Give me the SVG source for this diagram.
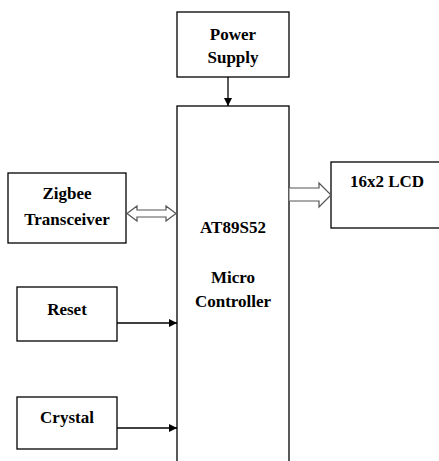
<svg xmlns="http://www.w3.org/2000/svg" width="439" height="461" viewBox="0 0 439 461">
<style>
.box{fill:#fff;stroke:#000;stroke-width:1.3}
.t{font-family:"Liberation Serif","Times New Roman",serif;font-weight:bold;font-size:17px;fill:#000;text-anchor:middle}
.ln{stroke:#000;stroke-width:1.3;fill:none}
.hollow{fill:#fff;stroke:#555;stroke-width:1.2}
</style>
<defs>
<marker id="ah" viewBox="0 0 10 10" refX="10" refY="5" markerWidth="8" markerHeight="8" markerUnits="userSpaceOnUse" orient="auto">
<path d="M0,0 L10,5 L0,10 z" fill="#000"/>
</marker>
</defs>
<rect width="439" height="461" fill="#fff"/>
<g id="power">
<rect class="box" x="177" y="12" width="112" height="65"/>
<text class="t" x="233" y="40">Power</text>
<text class="t" x="233" y="63">Supply</text>
</g>
<g id="mcu">
<rect class="box" x="177" y="106" width="112" height="370"/>
<text class="t" x="233" y="233">AT89S52</text>
<text class="t" x="233" y="283">Micro</text>
<text class="t" x="233" y="307">Controller</text>
</g>
<g id="zigbee">
<rect class="box" x="8" y="173" width="118" height="70"/>
<text class="t" x="67" y="199">Zigbee</text>
<text class="t" x="67" y="225">Transceiver</text>
</g>
<g id="lcd">
<rect class="box" x="331" y="162" width="120" height="66"/>
<text class="t" x="387" y="187">16x2 LCD</text>
</g>
<g id="reset">
<rect class="box" x="17" y="287" width="100" height="54"/>
<text class="t" x="67" y="315">Reset</text>
</g>
<g id="crystal">
<rect class="box" x="17" y="397" width="100" height="52"/>
<text class="t" x="67" y="423">Crystal</text>
</g>
<g id="connectors">
<line class="ln" x1="228" y1="77" x2="228" y2="106" marker-end="url(#ah)"/>
<line class="ln" x1="117" y1="323" x2="177" y2="323" marker-end="url(#ah)"/>
<line class="ln" x1="117" y1="428" x2="177" y2="428" marker-end="url(#ah)"/>
<polygon class="hollow" points="127,213.5 137,206 137,210 166,210 166,206 176,213.5 166,221 166,217 137,217 137,221"/>
<path class="hollow" d="M289.5,188 H319 V183 L331,195 L319,207 V201 H289.5"/>
</g>
</svg>
